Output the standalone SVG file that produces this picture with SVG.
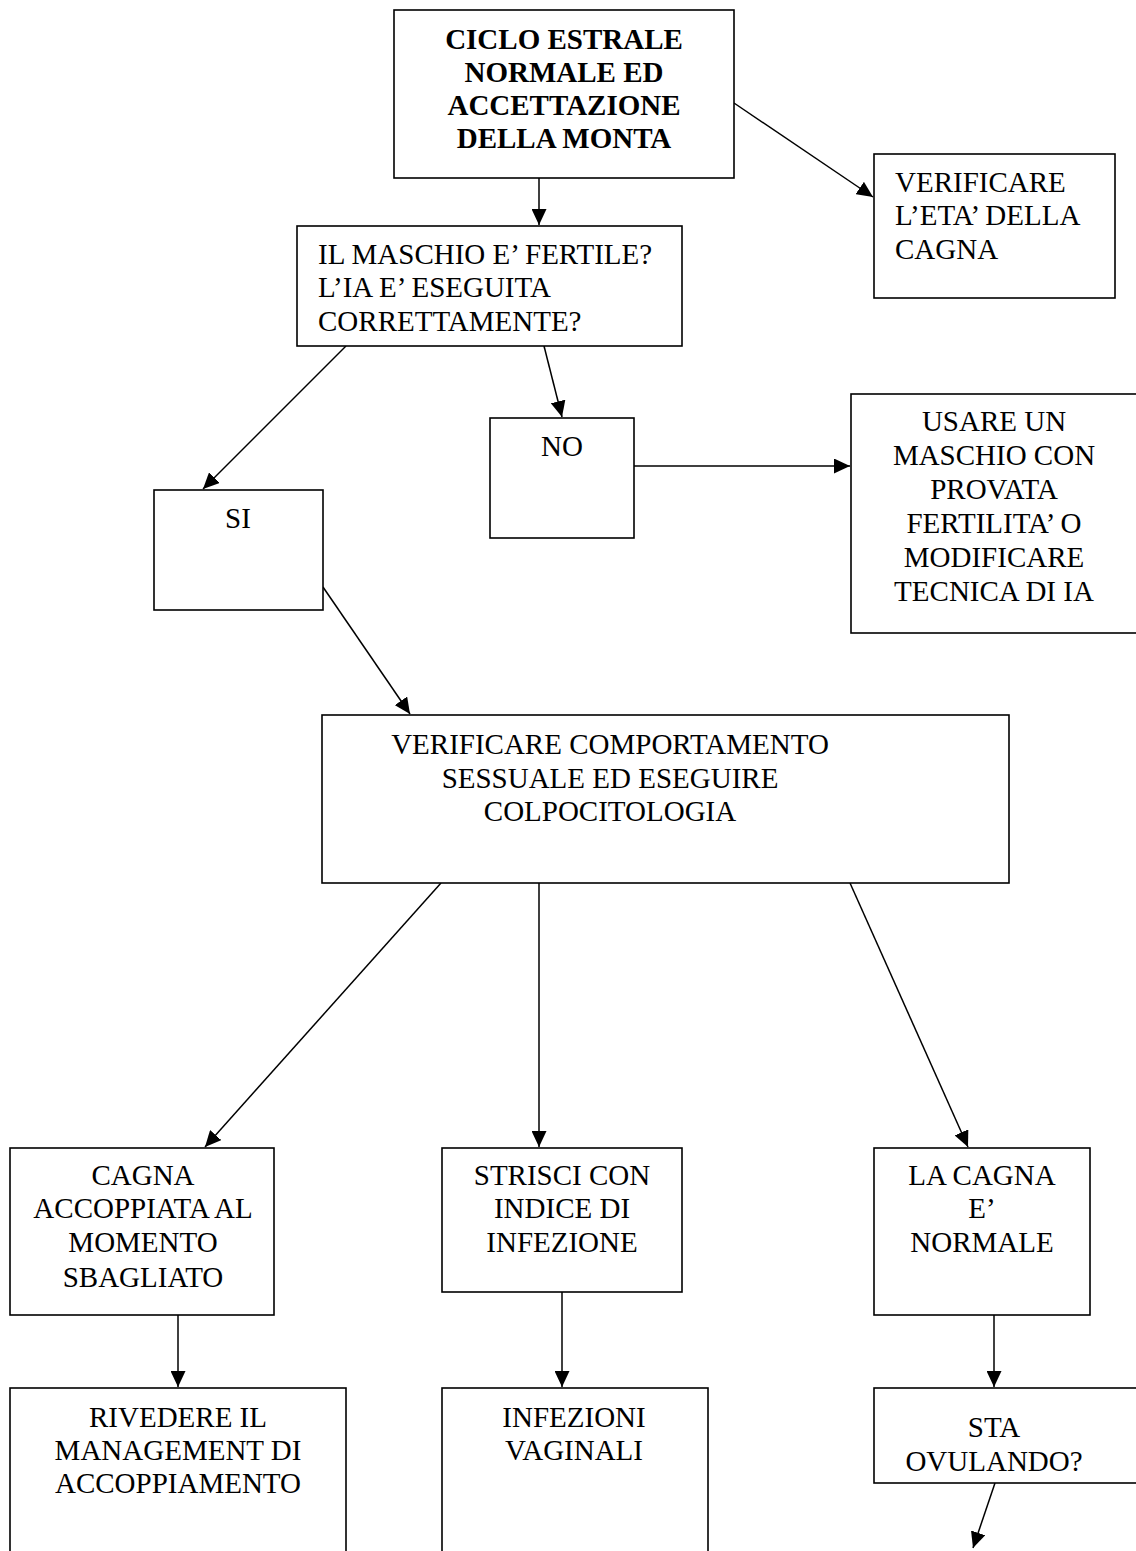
<svg xmlns="http://www.w3.org/2000/svg" width="1136" height="1551" viewBox="0 0 1136 1551">
  <style>
    .box { fill: #ffffff; stroke: #000000; stroke-width: 1.6; }
    .edge { fill: none; stroke: #000000; stroke-width: 1.5; marker-end: url(#arrow); }
    text { font-family: "Liberation Serif", "Times New Roman", serif; font-size: 29px; fill: #000000; }
    .c { text-anchor: middle; }
    .b { font-weight: bold; }
  </style>
  <defs>
    <marker id="arrow" markerUnits="userSpaceOnUse" markerWidth="17" markerHeight="15" refX="16" refY="7.5" orient="auto">
      <path d="M0,0 L16,7.5 L0,15 Z" fill="#000000"/>
    </marker>
  </defs>

  <rect width="1136" height="1551" fill="#ffffff"/>

  <g id="connectors">
    <line class="edge" x1="539" y1="178" x2="539" y2="225"/>
    <line class="edge" x1="734" y1="103" x2="873" y2="197"/>
    <line class="edge" x1="346" y1="346" x2="203" y2="489"/>
    <line class="edge" x1="544" y1="346" x2="562" y2="417"/>
    <line class="edge" x1="634" y1="466" x2="850" y2="466"/>
    <line class="edge" x1="323" y1="587" x2="410" y2="714"/>
    <line class="edge" x1="441" y1="883" x2="205" y2="1147"/>
    <line class="edge" x1="539" y1="883" x2="539" y2="1147"/>
    <line class="edge" x1="850" y1="883" x2="968" y2="1147"/>
    <line class="edge" x1="178" y1="1315" x2="178" y2="1387"/>
    <line class="edge" x1="562" y1="1292" x2="562" y2="1387"/>
    <line class="edge" x1="994" y1="1315" x2="994" y2="1387"/>
    <line class="edge" x1="995" y1="1483" x2="973" y2="1548"/>
  </g>

  <g id="ciclo-estrale">
    <rect class="box" x="394" y="10" width="340" height="168"/>
    <text class="c b" x="564" y="49">CICLO ESTRALE</text>
    <text class="c b" x="564" y="82">NORMALE ED</text>
    <text class="c b" x="564" y="115">ACCETTAZIONE</text>
    <text class="c b" x="564" y="148">DELLA MONTA</text>
  </g>

  <g id="maschio-fertile">
    <rect class="box" x="297" y="226" width="385" height="120"/>
    <text x="318" y="264">IL MASCHIO E’ FERTILE?</text>
    <text x="318" y="297">L’IA E’ ESEGUITA</text>
    <text x="318" y="331">CORRETTAMENTE?</text>
  </g>

  <g id="verificare-eta">
    <rect class="box" x="874" y="154" width="241" height="144"/>
    <text x="895" y="192">VERIFICARE</text>
    <text x="895" y="225">L’ETA’ DELLA</text>
    <text x="895" y="259">CAGNA</text>
  </g>

  <g id="no">
    <rect class="box" x="490" y="418" width="144" height="120"/>
    <text class="c" x="562" y="456">NO</text>
  </g>

  <g id="si">
    <rect class="box" x="154" y="490" width="169" height="120"/>
    <text class="c" x="238" y="528">SI</text>
  </g>

  <g id="usare-maschio">
    <rect class="box" x="851" y="394" width="300" height="239"/>
    <text class="c" x="994" y="431">USARE UN</text>
    <text class="c" x="994" y="465">MASCHIO CON</text>
    <text class="c" x="994" y="499">PROVATA</text>
    <text class="c" x="994" y="533">FERTILITA’ O</text>
    <text class="c" x="994" y="567">MODIFICARE</text>
    <text class="c" x="994" y="601">TECNICA DI IA</text>
  </g>

  <g id="verificare-comportamento">
    <rect class="box" x="322" y="715" width="687" height="168"/>
    <text class="c" x="610" y="754">VERIFICARE COMPORTAMENTO</text>
    <text class="c" x="610" y="788">SESSUALE ED ESEGUIRE</text>
    <text class="c" x="610" y="821">COLPOCITOLOGIA</text>
  </g>

  <g id="cagna-accoppiata">
    <rect class="box" x="10" y="1148" width="264" height="167"/>
    <text class="c" x="143" y="1185">CAGNA</text>
    <text class="c" x="143" y="1218">ACCOPPIATA AL</text>
    <text class="c" x="143" y="1252">MOMENTO</text>
    <text class="c" x="143" y="1287">SBAGLIATO</text>
  </g>

  <g id="strisci-infezione">
    <rect class="box" x="442" y="1148" width="240" height="144"/>
    <text class="c" x="562" y="1185">STRISCI CON</text>
    <text class="c" x="562" y="1218">INDICE DI</text>
    <text class="c" x="562" y="1252">INFEZIONE</text>
  </g>

  <g id="cagna-normale">
    <rect class="box" x="874" y="1148" width="216" height="167"/>
    <text class="c" x="982" y="1185">LA CAGNA</text>
    <text class="c" x="982" y="1218">E’</text>
    <text class="c" x="982" y="1252">NORMALE</text>
  </g>

  <g id="rivedere-management">
    <rect class="box" x="10" y="1388" width="336" height="200"/>
    <text class="c" x="178" y="1427">RIVEDERE IL</text>
    <text class="c" x="178" y="1460">MANAGEMENT DI</text>
    <text class="c" x="178" y="1493">ACCOPPIAMENTO</text>
  </g>

  <g id="infezioni-vaginali">
    <rect class="box" x="442" y="1388" width="266" height="200"/>
    <text class="c" x="574" y="1427">INFEZIONI</text>
    <text class="c" x="574" y="1460">VAGINALI</text>
  </g>

  <g id="sta-ovulando">
    <rect class="box" x="874" y="1388" width="300" height="95"/>
    <text class="c" x="994" y="1437">STA</text>
    <text class="c" x="994" y="1471">OVULANDO?</text>
  </g>
</svg>
